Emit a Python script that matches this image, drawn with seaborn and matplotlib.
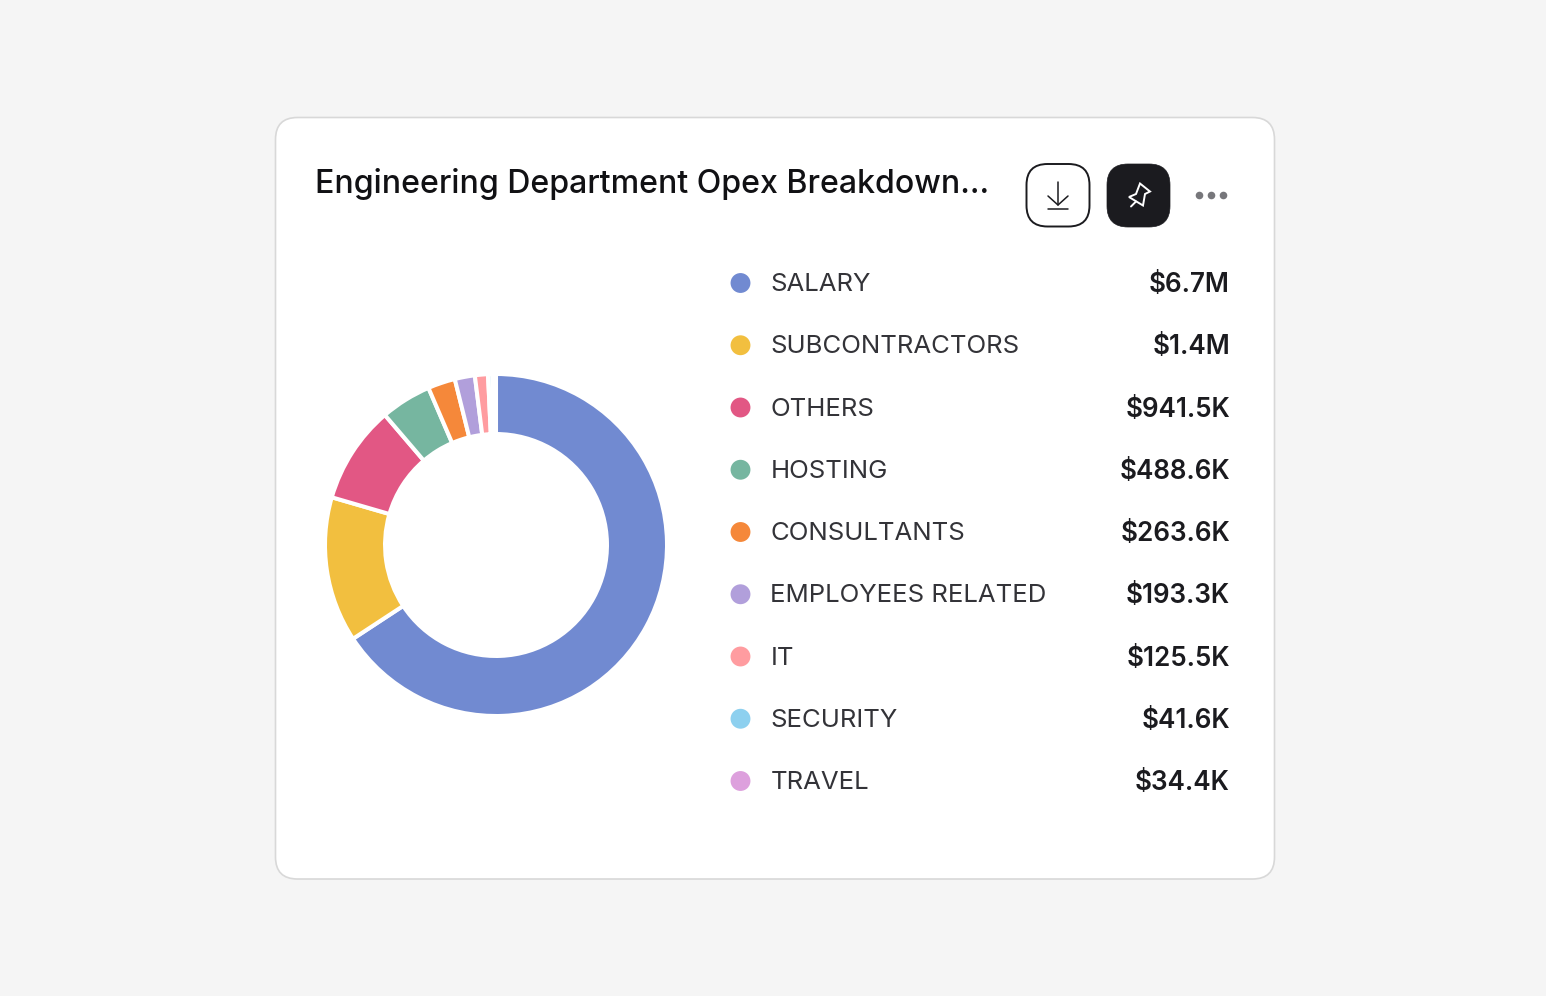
"""Engineering opex breakdown card: donut on the left, value list on the right."""

import matplotlib

matplotlib.use("Agg")

import matplotlib.pyplot as plt
import seaborn as sns
from matplotlib.patches import FancyBboxPatch, Polygon

categories = [
    "SALARY", "SUBCONTRACTORS", "OTHERS", "HOSTING", "CONSULTANTS",
    "EMPLOYEES RELATED", "IT", "SECURITY", "TRAVEL",
]
values = [6700000, 1400000, 941500, 488600, 263600, 193300, 125500, 41600, 34400]
value_labels = [
    "$6.7M", "$1.4M", "$941.5K", "$488.6K", "$263.6K",
    "$193.3K", "$125.5K", "$41.6K", "$34.4K",
]
colors = [
    "#718ad1", "#f2bf3f", "#e25784", "#76b6a0", "#f5883a",
    "#b19fdb", "#ff9ca0", "#8dd0ef", "#dda0dd",
]
title = "Engineering Department Opex Breakdown..."

W, H = 1546, 996
INK = "#1b1b1f"


def px_axes(fig, left, top, right, bottom, **kwargs):
    """Axes placed with pixel coordinates measured from the top left."""
    return fig.add_axes(
        [left / W, 1 - bottom / H, (right - left) / W, (bottom - top) / H], **kwargs
    )


def rounded(ax, x0, y0, x1, y1, radius, **kwargs):
    box = FancyBboxPatch(
        (x0 + radius, y0 + radius), x1 - x0 - 2 * radius, y1 - y0 - 2 * radius,
        boxstyle=f"round,pad={radius},rounding_size={radius}", **kwargs,
    )
    ax.add_patch(box)


def draw_card(fig):
    ax = px_axes(fig, 0, 0, W, H)
    ax.set_xlim(0, W)
    ax.set_ylim(H, 0)
    ax.axis("off")

    rounded(ax, 275.5, 117.5, 1274.5, 879, 22, fc="white", ec="#d8d8d8", lw=1.2)
    ax.text(315, 184, title, fontsize=23.1, color="#111114", va="center", ha="left", fontweight=500)

    # download button
    rounded(ax, 1026.5, 164, 1089.5, 226.5, 21, fc="white", ec=INK, lw=1.4)
    ax.plot([1058, 1058], [182, 205], color=INK, lw=1.1)
    ax.plot([1048, 1058, 1068], [196, 205, 196], color=INK, lw=1.1)
    ax.plot([1048, 1068], [208.5, 208.5], color=INK, lw=1.1)

    # pin button
    rounded(ax, 1107, 164, 1170, 227, 21, fc=INK, ec=INK, lw=0.5)
    pin = [(1140, 183.5), (1150, 191.5), (1145, 194), (1143, 205.5), (1129, 197), (1136, 194)]
    ax.add_patch(Polygon(pin, closed=True, fc="none", ec="white", lw=1.4))
    ax.plot([1131, 1136], [206.5, 201.5], color="white", lw=1.4)

    # overflow menu
    ax.scatter([1199, 1211, 1223], [195, 195, 195], s=30, marker="o", color="#77777b", linewidths=0)


def draw_donut(fig):
    ax = px_axes(fig, 325, 374, 667, 716)
    ax.pie(
        values, colors=colors, startangle=90, counterclock=False, radius=1,
        wedgeprops={"width": 0.351, "edgecolor": "white", "linewidth": 2.9},
    )
    ax.set_xlim(-1, 1)
    ax.set_ylim(-1, 1)


def draw_legend(fig):
    ax = px_axes(fig, 740.5, 283, 1230, 781)
    ax.patch.set_alpha(0)
    sns.scatterplot(
        x=[0] * len(categories), y=categories, hue=categories, palette=colors,
        s=205, linewidth=0, legend=False, clip_on=False, ax=ax,
    )
    ax.set_xlim(0, 489.5)
    ax.set_ylim(len(categories) - 1, 0)
    ax.axis("off")
    for i, (name, label) in enumerate(zip(categories, value_labels)):
        ax.text(30, i - 0.015, name, fontsize=18.55, color="#333338", va="center_baseline", ha="left")
        ax.text(489.5, i - 0.015, label, fontsize=18.75, color="#1b1b1f", va="center_baseline", ha="right", fontweight=600)


def main():
    sns.set_theme(style="white")
    plt.rcParams["font.family"] = ["Inter", "DejaVu Sans"]

    fig = plt.figure(figsize=(W / 100, H / 100), dpi=100, facecolor="#f5f5f5")
    draw_card(fig)
    draw_donut(fig)
    draw_legend(fig)
    fig.savefig("out.png", dpi=100, facecolor=fig.get_facecolor())


if __name__ == "__main__":
    main()
